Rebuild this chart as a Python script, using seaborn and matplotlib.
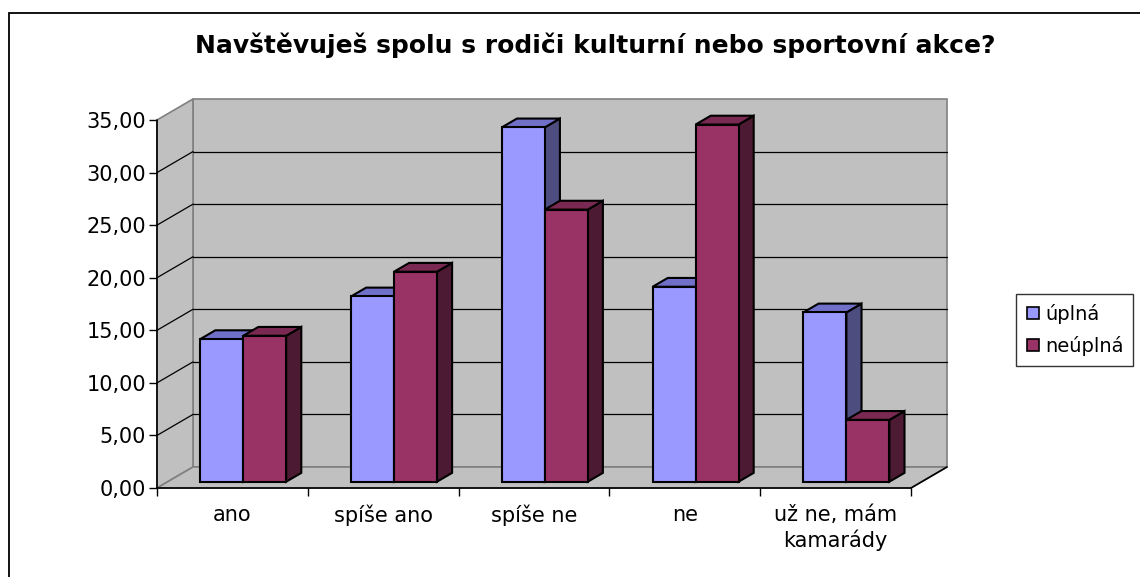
import numpy as np
import pandas as pd
import matplotlib
matplotlib.use("Agg")
import matplotlib.pyplot as plt
import seaborn as sns
from matplotlib.patches import Polygon, Rectangle
from matplotlib.lines import Line2D
from matplotlib.ticker import FixedLocator

# data
kategorie = ["ano", "spíše ano", "spíše ne", "ne", "už ne, mám\nkamarády"]
uplna = [13.56, 17.62, 33.70, 18.54, 16.10]
neuplna = [13.88, 19.97, 25.88, 33.97, 5.88]
serie = ["úplná", "neúplná"]
barvy = {"úplná": "#9999FF", "neúplná": "#993366"}
barvy_tmave = {"úplná": ("#7070C8", "#4D4D80"), "neúplná": ("#7A2952", "#4D1A33")}
titulek = "Navštěvuješ spolu s rodiči kulturní nebo sportovní akce?"

df = pd.DataFrame({
    "kategorie": kategorie * 2,
    "hodnota": uplna + neuplna,
    "skupina": [serie[0]] * 5 + [serie[1]] * 5,
})

sns.set_theme(style="white")
plt.rcParams["font.family"] = ["DejaVu Sans"]
plt.rcParams["text.color"] = "black"
plt.rcParams["xtick.color"] = "black"
plt.rcParams["ytick.color"] = "black"

W, H = 1140, 577
fig = plt.figure(figsize=(W / 100, H / 100), dpi=100)
# front plane of the 3d box in pixels
x0, x1, y0, y1 = 157, 911, 488, 120
ax = fig.add_axes([x0 / W, 1 - y0 / H, (x1 - x0) / W, (y0 - y1) / H])

YMAX = 35
px_x = (x1 - x0) / 5.0
px_y = (y0 - y1) / YMAX
# depth vector of the box in data units
DX = 36 / px_x
DY = 21 / px_y
GRAY = "#C0C0C0"
EDGE = "#808080"

# walls and floor
ax.add_patch(Polygon([(-0.5 + DX, DY), (4.5 + DX, DY), (4.5 + DX, YMAX + DY), (-0.5 + DX, YMAX + DY)],
                     closed=True, facecolor=GRAY, edgecolor=EDGE, lw=1.2, clip_on=False, zorder=0))
ax.add_patch(Polygon([(-0.5, 0), (-0.5 + DX, DY), (-0.5 + DX, YMAX + DY), (-0.5, YMAX)],
                     closed=True, facecolor=GRAY, edgecolor=EDGE, lw=1.2, clip_on=False, zorder=0))
ax.add_patch(Polygon([(-0.5, 0), (4.5, 0), (4.5 + DX, DY), (-0.5 + DX, DY)],
                     closed=True, facecolor=GRAY, edgecolor=EDGE, lw=1.2, clip_on=False, zorder=0))

# gridlines on back and side wall
for v in range(5, YMAX, 5):
    ax.plot([-0.5 + DX, 4.5 + DX], [v + DY, v + DY], color="black", lw=0.9, clip_on=False, zorder=1)
    ax.plot([-0.5, -0.5 + DX], [v, v + DY], color="black", lw=0.9, clip_on=False, zorder=1)

sns.barplot(data=df, x="kategorie", y="hodnota", hue="skupina", palette=barvy, saturation=1,
            width=0.57, ax=ax, edgecolor="black", linewidth=1.5, legend=False, zorder=3)

# turn flat bars into boxes: shift front face into depth, add top and side
posun_x, posun_y = 0.3 * DX, 0.3 * DY
hloubka_x, hloubka_y = 0.42 * DX, 0.42 * DY
for cont, nazev in zip(ax.containers, serie):
    horni, bocni = barvy_tmave[nazev]
    for bar in cont:
        bx, bw, bh = bar.get_x(), bar.get_width(), bar.get_height()
        bx2 = bx + posun_x
        by = posun_y
        bar.set_x(bx2)
        bar.set_y(by)
        bar.set_clip_on(False)
        top = by + bh
        ax.add_patch(Polygon([(bx2 + bw, by), (bx2 + bw + hloubka_x, by + hloubka_y),
                              (bx2 + bw + hloubka_x, top + hloubka_y), (bx2 + bw, top)],
                             closed=True, facecolor=bocni, edgecolor="black", lw=1.5,
                             clip_on=False, zorder=2.9))
        ax.add_patch(Polygon([(bx2, top), (bx2 + hloubka_x, top + hloubka_y),
                              (bx2 + bw + hloubka_x, top + hloubka_y), (bx2 + bw, top)],
                             closed=True, facecolor=horni, edgecolor="black", lw=1.5,
                             clip_on=False, zorder=2.9))

ax.set_xlim(-0.5, 4.5)
ax.set_ylim(0, YMAX)
for s in ax.spines.values():
    s.set_visible(False)
ax.plot([-0.5, -0.5], [0, YMAX], color="black", lw=1.2, clip_on=False, zorder=4)
ax.plot([-0.5, 4.5], [0, 0], color="black", lw=1.2, clip_on=False, zorder=4)
ax.plot([4.5, 4.5 + DX], [0, DY], color="black", lw=1.2, clip_on=False, zorder=4)

ax.set_yticks(np.arange(0, YMAX + 1, 5))
ax.set_yticklabels([f"{v:.2f}".replace(".", ",") for v in np.arange(0, YMAX + 1, 5)], fontsize=15)
ax.set_xticks(range(5))
ax.set_xticklabels(kategorie, fontsize=15, linespacing=1.3)
ax.xaxis.set_minor_locator(FixedLocator(np.arange(-0.5, 5, 1.0)))
ax.tick_params(axis="x", which="major", length=0, pad=12)
ax.tick_params(axis="x", which="minor", length=6, width=1, color="black", direction="out", bottom=True)
ax.tick_params(axis="y", length=6, width=1, color="black", direction="out", left=True, pad=2)
ax.set_xlabel("")
ax.set_ylabel("")
ax.grid(False)

fig.text(595 / W, 1 - 45 / H, titulek, ha="center", va="center", fontsize=18, fontweight="bold")

# legend
handles = [Line2D([], [], marker="s", ls="", markersize=8, markerfacecolor=barvy[s],
                  markeredgecolor="black", markeredgewidth=1.2) for s in serie]
leg = fig.legend(handles, serie, loc="center left", bbox_to_anchor=(1016 / W, 1 - 330 / H),
                 frameon=True, fancybox=False, edgecolor="black", fontsize=14,
                 handlelength=0.7, handletextpad=0.3, borderpad=0.5, labelspacing=0.6,
                 borderaxespad=0)
leg.get_frame().set_linewidth(1.0)

# outer chart border
fig.add_artist(Rectangle((9 / W, -0.1), 1.2, 1 - 13 / H + 0.1, transform=fig.transFigure,
                         fill=False, edgecolor="black", lw=1.3))

fig.savefig("out.png", dpi=100)
